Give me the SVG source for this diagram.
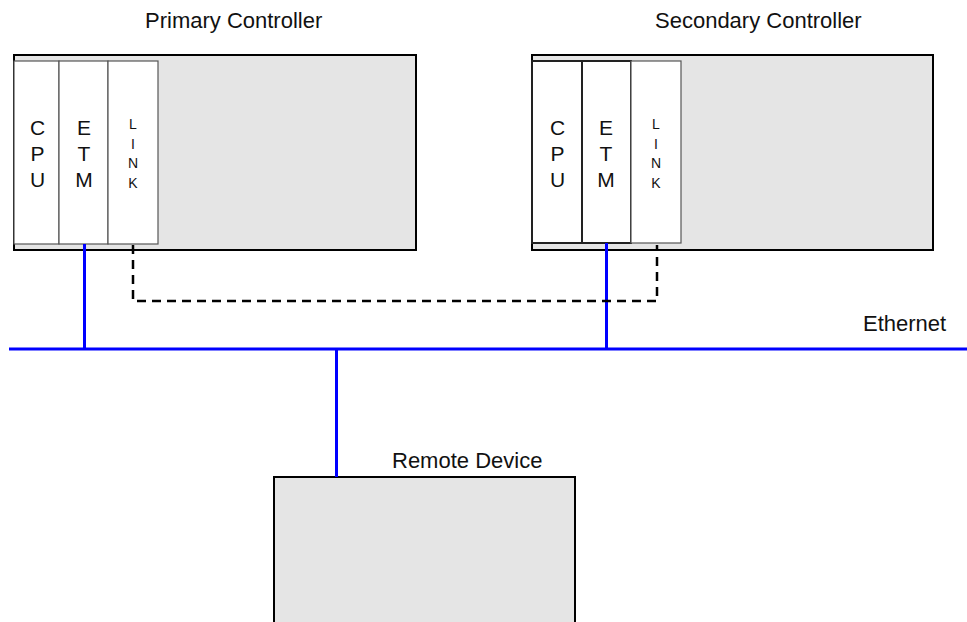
<svg xmlns="http://www.w3.org/2000/svg" width="967" height="622" viewBox="0 0 967 622">
<style>
.box{fill:#e5e5e5;stroke:#000;stroke-width:2}
.mod{fill:#fff;stroke:#555;stroke-width:1.2}
.lbl{font-family:"Liberation Sans",Arial,sans-serif;font-size:22px;fill:#111}
.big{font-family:"Liberation Sans",Arial,sans-serif;font-size:21px;fill:#111;text-anchor:middle}
.sm{font-family:"Liberation Sans",Arial,sans-serif;font-size:14px;fill:#111;text-anchor:middle}
.eth{stroke:#0000ff;stroke-width:3;fill:none}
.link{stroke:#000;stroke-width:2.5;fill:none;stroke-dasharray:9,6}
</style>
<rect width="967" height="622" fill="#fff"/>
<g id="primary">
<text class="lbl" x="145" y="28">Primary Controller</text>
<rect class="box" x="14" y="55" width="402" height="195"/>
<rect class="mod" x="14" y="61" width="45" height="183"/>
<rect class="mod" x="59" y="61" width="49" height="183"/>
<rect class="mod" x="108" y="61" width="50" height="183"/>
<text class="big" x="37.5" y="135">C</text><text class="big" x="37.5" y="161">P</text><text class="big" x="37.5" y="187">U</text>
<text class="big" x="84" y="135">E</text><text class="big" x="84" y="161">T</text><text class="big" x="84" y="187">M</text>
<text class="sm" x="133" y="129">L</text><text class="sm" x="133" y="149">I</text><text class="sm" x="133" y="168">N</text><text class="sm" x="133" y="188">K</text>
</g>
<g id="secondary">
<text class="lbl" x="655" y="28">Secondary Controller</text>
<rect class="box" x="532" y="55" width="401" height="195"/>
<rect class="mod" x="532" y="61" width="50" height="182" style="stroke:#222;stroke-width:2"/>
<rect class="mod" x="582" y="61" width="49" height="182" style="stroke:#222;stroke-width:2"/>
<rect class="mod" x="631" y="61" width="50" height="182"/>
<text class="big" x="557.5" y="135">C</text><text class="big" x="557.5" y="161">P</text><text class="big" x="557.5" y="187">U</text>
<text class="big" x="606" y="135">E</text><text class="big" x="606" y="161">T</text><text class="big" x="606" y="187">M</text>
<text class="sm" x="656" y="129">L</text><text class="sm" x="656" y="149">I</text><text class="sm" x="656" y="168">N</text><text class="sm" x="656" y="188">K</text>
</g>
<g id="remote">
<text class="lbl" x="392" y="468">Remote Device</text>
<rect class="box" x="274" y="477" width="301" height="160"/>
</g>
<g id="ethernet-label">
<text class="lbl" x="863" y="331">Ethernet</text>
</g>
<g id="connectors">
<line class="eth" x1="9" y1="349" x2="967" y2="349"/>
<line class="eth" x1="84.5" y1="244" x2="84.5" y2="349"/>
<line class="eth" x1="606.5" y1="243" x2="606.5" y2="349"/>
<line class="eth" x1="336.5" y1="349" x2="336.5" y2="477"/>
<polyline class="link" points="133,245 133,301 657,301 657,245"/>
</g>
</svg>
